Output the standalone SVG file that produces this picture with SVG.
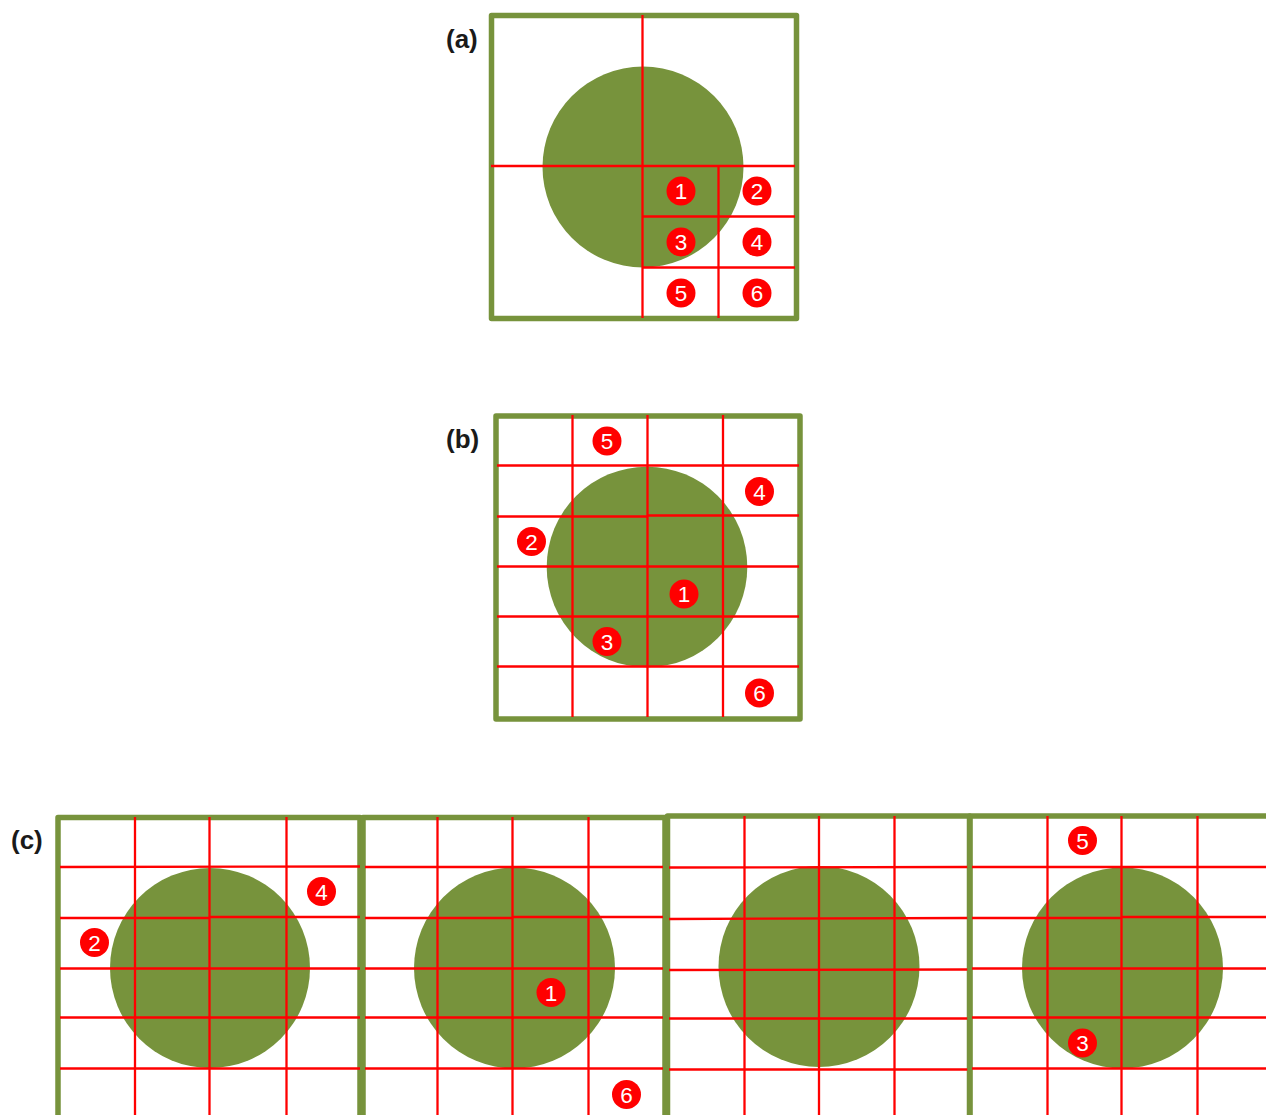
<svg xmlns="http://www.w3.org/2000/svg" width="1266" height="1115" viewBox="0 0 1266 1115">
<style>
.frame{fill:none;stroke:#77933C;stroke-width:5.5;stroke-linejoin:round}
.disc{fill:#77933C}
.grid{stroke:#FF0000;stroke-width:2.3;fill:none}
.badge circle{fill:#FF0000}
.badge text{fill:#FFFFFF;font-family:"Liberation Sans",Arial,sans-serif;font-size:22.5px;text-anchor:middle}
.lbl{font-family:"Liberation Sans",Arial,sans-serif;font-size:26px;font-weight:bold;fill:#1a1a1a}
</style>
<rect width="1266" height="1115" fill="#FFFFFF"/>

<!-- (a) -->
<g id="panel-a">
<text class="lbl" x="446" y="48">(a)</text>
<circle class="disc" cx="643" cy="167" r="100.5"/>
<rect class="frame" x="491.5" y="15.5" width="305" height="303"/>
<g class="grid">
<line x1="642.5" y1="15" x2="642.5" y2="318"/>
<line x1="491" y1="166" x2="795" y2="166"/>
<line x1="718.5" y1="166" x2="718.5" y2="318"/>
<line x1="642" y1="216.5" x2="795" y2="216.5"/>
<line x1="642" y1="267.5" x2="795" y2="267.5"/>
</g>
<g id="a-b1" class="badge"><circle cx="681" cy="191" r="14.5"/><text x="681" y="199">1</text></g>
<g id="a-b2" class="badge"><circle cx="757" cy="191" r="14.5"/><text x="757" y="199">2</text></g>
<g id="a-b3" class="badge"><circle cx="681" cy="242" r="14.5"/><text x="681" y="250">3</text></g>
<g id="a-b4" class="badge"><circle cx="757" cy="242" r="14.5"/><text x="757" y="250">4</text></g>
<g id="a-b5" class="badge"><circle cx="681" cy="293" r="14.5"/><text x="681" y="301">5</text></g>
<g id="a-b6" class="badge"><circle cx="757" cy="293" r="14.5"/><text x="757" y="301">6</text></g>
</g>

<!-- (b) -->
<g id="panel-b">
<text class="lbl" x="446" y="448">(b)</text>
<circle class="disc" cx="647" cy="567" r="100.3"/>
<rect class="frame" x="496" y="416" width="304" height="303"/>
<g class="grid">
<line x1="572.5" y1="415" x2="572.5" y2="717"/>
<line x1="647.5" y1="415" x2="647.5" y2="717"/>
<line x1="723" y1="415" x2="723" y2="717"/>
<line x1="497" y1="465.5" x2="799" y2="465.5"/>
<line x1="497" y1="516.5" x2="647.5" y2="516.5"/>
<line x1="647.5" y1="515.5" x2="799" y2="515.5"/>
<line x1="497" y1="566.5" x2="799" y2="566.5"/>
<line x1="497" y1="616.5" x2="799" y2="616.5"/>
<line x1="497" y1="666.5" x2="799" y2="666.5"/>
</g>
<g id="b-b5" class="badge"><circle cx="607" cy="441" r="14.5"/><text x="607" y="449">5</text></g>
<g id="b-b4" class="badge"><circle cx="759.5" cy="491.5" r="14.5"/><text x="759.5" y="499.5">4</text></g>
<g id="b-b2" class="badge"><circle cx="531.5" cy="541.5" r="14.5"/><text x="531.5" y="549.5">2</text></g>
<g id="b-b1" class="badge"><circle cx="684" cy="594" r="14.5"/><text x="684" y="602">1</text></g>
<g id="b-b3" class="badge"><circle cx="607" cy="641.5" r="14.5"/><text x="607" y="649.5">3</text></g>
<g id="b-b6" class="badge"><circle cx="759.5" cy="693" r="14.5"/><text x="759.5" y="701">6</text></g>
</g>

<!-- (c) -->
<g id="panel-c">
<text class="lbl" x="11" y="848.5">(c)</text>

<g id="c1">
<circle class="disc" cx="210" cy="968" r="100"/>
<rect class="frame" x="58" y="817.5" width="302" height="320"/>
<g class="grid">
<line x1="135" y1="817" x2="135" y2="1115"/>
<line x1="209.5" y1="817" x2="209.5" y2="1115"/>
<line x1="286.5" y1="817" x2="286.5" y2="1115"/>
<line x1="60" y1="867" x2="360" y2="866.5"/>
<line x1="60" y1="918" x2="209.5" y2="918"/>
<line x1="209.5" y1="917" x2="360" y2="917"/>
<line x1="60" y1="968.5" x2="360" y2="968.5"/>
<line x1="60" y1="1017.5" x2="360" y2="1017.5"/>
<line x1="60" y1="1068.5" x2="360" y2="1068.5"/>
</g>
<g id="c1-b4" class="badge"><circle cx="321.5" cy="891.5" r="14.5"/><text x="321.5" y="899.5">4</text></g>
<g id="c1-b2" class="badge"><circle cx="94.5" cy="942.5" r="14.5"/><text x="94.5" y="950.5">2</text></g>
</g>

<g id="c2">
<circle class="disc" cx="514.5" cy="968" r="100.5"/>
<rect class="frame" x="363" y="817.5" width="302" height="320"/>
<g class="grid">
<line x1="437.5" y1="817" x2="437.5" y2="1115"/>
<line x1="512.5" y1="817" x2="512.5" y2="1115"/>
<line x1="588.5" y1="817" x2="588.5" y2="1115"/>
<line x1="365" y1="867" x2="663" y2="867"/>
<line x1="365" y1="918" x2="512.5" y2="918"/>
<line x1="512.5" y1="917" x2="663" y2="917"/>
<line x1="365" y1="968.5" x2="663" y2="968.5"/>
<line x1="365" y1="1017.5" x2="663" y2="1017.5"/>
<line x1="365" y1="1068.5" x2="663" y2="1068.5"/>
</g>
<g id="c2-b1" class="badge"><circle cx="551" cy="992.5" r="14.5"/><text x="551" y="1000.5">1</text></g>
<g id="c2-b6" class="badge"><circle cx="626.5" cy="1094.5" r="14.5"/><text x="626.5" y="1102.5">6</text></g>
</g>

<g id="c3">
<circle class="disc" cx="819" cy="966.5" r="100.5"/>
<rect class="frame" x="667.5" y="816" width="302" height="320"/>
<g class="grid">
<line x1="744.5" y1="816" x2="744.5" y2="1115"/>
<line x1="819" y1="816" x2="819" y2="1115"/>
<line x1="894.5" y1="816" x2="894.5" y2="1115"/>
<line x1="669" y1="867.5" x2="969" y2="867"/>
<line x1="669" y1="919" x2="969" y2="918"/>
<line x1="669" y1="970" x2="969" y2="969.5"/>
<line x1="669" y1="1018.5" x2="969" y2="1018.5"/>
<line x1="669" y1="1069.5" x2="969" y2="1069.5"/>
</g>
</g>

<g id="c4">
<circle class="disc" cx="1122.5" cy="968" r="100.5"/>
<rect class="frame" x="970" y="816" width="320" height="320"/>
<g class="grid">
<line x1="1047.5" y1="816" x2="1047.5" y2="1115"/>
<line x1="1121.5" y1="816" x2="1121.5" y2="1115"/>
<line x1="1197.5" y1="816" x2="1197.5" y2="1115"/>
<line x1="972" y1="867" x2="1266" y2="867"/>
<line x1="972" y1="918" x2="1121.5" y2="918"/>
<line x1="1121.5" y1="917" x2="1266" y2="917"/>
<line x1="972" y1="968.5" x2="1266" y2="968.5"/>
<line x1="972" y1="1017.5" x2="1266" y2="1017.5"/>
<line x1="972" y1="1068.5" x2="1266" y2="1068.5"/>
</g>
<g id="c4-b5" class="badge"><circle cx="1082.5" cy="840.5" r="14.5"/><text x="1082.5" y="848.5">5</text></g>
<g id="c4-b3" class="badge"><circle cx="1082.5" cy="1043" r="14.5"/><text x="1082.5" y="1051">3</text></g>
</g>
</g>
</svg>
